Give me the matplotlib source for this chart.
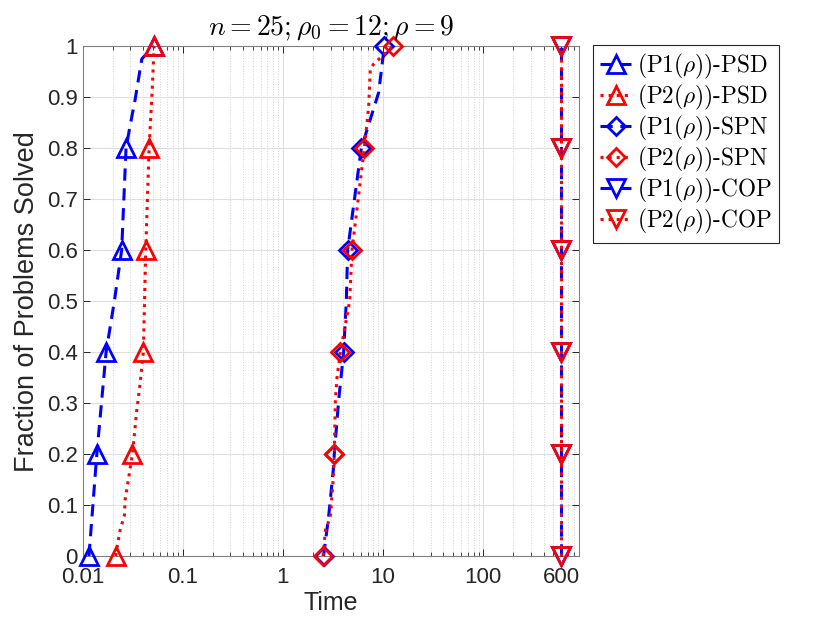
import numpy as np
import matplotlib
matplotlib.use("Agg")
import matplotlib.pyplot as plt
from matplotlib.ticker import FixedLocator, LogLocator, NullFormatter

# fraction solved and time, one pair of lists per curve
psd1_y = [0.0, 0.2, 0.4, 0.5, 0.6, 0.8, 0.843, 0.895, 0.975, 1.0]
psd1_x = [0.0116, 0.0139, 0.0172, 0.0208, 0.0246, 0.0272, 0.0298, 0.0335, 0.0391, 0.0518]

psd2_y = [0.0, 0.017, 0.05, 0.08, 0.11, 0.15, 0.2, 0.285, 0.337, 0.4, 0.6, 0.8, 0.92, 1.0]
psd2_x = [0.0215, 0.0221, 0.0237, 0.0262, 0.0266, 0.0287, 0.0315, 0.0348, 0.0375,
          0.0405, 0.0428, 0.0462, 0.0498, 0.0518]

spn1_y = [0.0, 0.077, 0.175, 0.2, 0.304, 0.4, 0.5, 0.6, 0.8, 0.909, 1.0]
spn1_x = [2.55, 2.86, 3.21, 3.26, 3.60, 4.04, 4.30, 4.43, 6.07, 9.04, 10.3]

spn2_y = [0.0, 0.051, 0.077, 0.143, 0.2, 0.306, 0.35, 0.4, 0.5, 0.6, 0.8, 0.88,
          0.955, 0.965, 0.98, 1.0]
spn2_x = [2.52, 2.66, 2.98, 3.16, 3.26, 3.34, 3.47, 3.75, 4.64, 4.90, 6.50, 7.18,
          7.46, 8.06, 9.77, 12.58]

cop1_y = [0.0, 0.2, 0.4, 0.6, 0.8, 1.0]
cop1_x = [600, 600, 600, 600, 600, 600]
cop2_y = [0.0, 0.2, 0.4, 0.6, 0.8, 1.0]
cop2_x = [600, 600, 600, 600, 600, 600]

x_ticks = [0.01, 0.1, 1, 10, 100, 600]
x_tick_labels = ["0.01", "0.1", "1", "10", "100", "600"]
y_ticks = [0, 0.1, 0.2, 0.3, 0.4, 0.5, 0.6, 0.7, 0.8, 0.9, 1]
y_tick_labels = ["0", "0.1", "0.2", "0.3", "0.4", "0.5", "0.6", "0.7", "0.8", "0.9", "1"]

labels = [r"(P1($\rho$))-PSD", r"(P2($\rho$))-PSD",
          r"(P1($\rho$))-SPN", r"(P2($\rho$))-SPN",
          r"(P1($\rho$))-COP", r"(P2($\rho$))-COP"]

plt.rcParams["mathtext.fontset"] = "cm"
plt.rcParams["font.family"] = ["Liberation Sans", "DejaVu Sans"]

dark = (0.15, 0.15, 0.15)

fig = plt.figure(figsize=(8.30, 6.23), dpi=100)
ax = fig.add_axes([0.0994, 0.1075, 0.598, 0.8185])


def marks(y):
    # markers sit on every fifth of the profile
    y = np.asarray(y)
    return list(np.where(np.isclose(y * 5, np.round(y * 5)))[0])


curves = [
    (psd1_x, psd1_y, "b", (0, (4, 2.5)), "^", 12.5),
    (psd2_x, psd2_y, "r", ":", "^", 12.5),
    (spn1_x, spn1_y, "b", (0, (4, 2.5)), "D", 9),
    (spn2_x, spn2_y, "r", ":", "D", 9),
    (cop1_x, cop1_y, "b", (0, (4, 2.5)), "v", 12.5),
    (cop2_x, cop2_y, "r", ":", "v", 12.5),
]
for (xs, ys, col, ls, mk, ms), lab in zip(curves, labels):
    ax.plot(xs, ys, color=col, linestyle=ls, linewidth=2.2, marker=mk,
            markersize=ms, markerfacecolor="none", markeredgewidth=2.0,
            markevery=marks(ys), label=lab, clip_on=False, zorder=3)

ax.set_xscale("log")
ax.set_xlim(0.01, 900)
ax.set_ylim(0, 1)

ax.xaxis.set_major_locator(FixedLocator(x_ticks))
ax.set_xticklabels(x_tick_labels)
ax.xaxis.set_minor_locator(LogLocator(base=10, subs=np.arange(2, 10)))
ax.xaxis.set_minor_formatter(NullFormatter())
ax.set_yticks(y_ticks)
ax.set_yticklabels(y_tick_labels)

ax.grid(True, which="major", color="#dfdfdf", linewidth=0.8, linestyle="-")
ax.grid(True, which="minor", axis="x", color="#d2d2d2", linewidth=0.7, linestyle=":")
ax.set_axisbelow(True)

ax.tick_params(which="both", direction="in", top=True, right=True,
               colors=dark, labelsize=16)
ax.tick_params(which="major", length=5, width=0.7)
ax.tick_params(which="minor", length=3, width=0.6)
ax.tick_params(axis="x", pad=8)
for sp in ax.spines.values():
    sp.set_color((0.5, 0.5, 0.5))
    sp.set_linewidth(0.8)

ax.set_xlabel("Time", fontsize=18, color=dark, labelpad=2)
ax.set_ylabel("Fraction of Problems Solved", fontsize=19.5, color=dark, labelpad=5)
ax.set_title(r"$n = 25; \rho_0 = 12; \rho = 9$", fontsize=20, pad=8)

leg = fig.legend(loc="upper left", bbox_to_anchor=(593 / 830, 1 - 45 / 623),
                 prop={"family": "cmr10", "size": 16.75}, fancybox=False,
                 framealpha=1, edgecolor=dark, handlelength=1.35,
                 handletextpad=0.25, labelspacing=0.08, borderpad=0.3,
                 borderaxespad=0)
leg.get_frame().set_linewidth(0.8)

fig.savefig("out.png", dpi=100)
